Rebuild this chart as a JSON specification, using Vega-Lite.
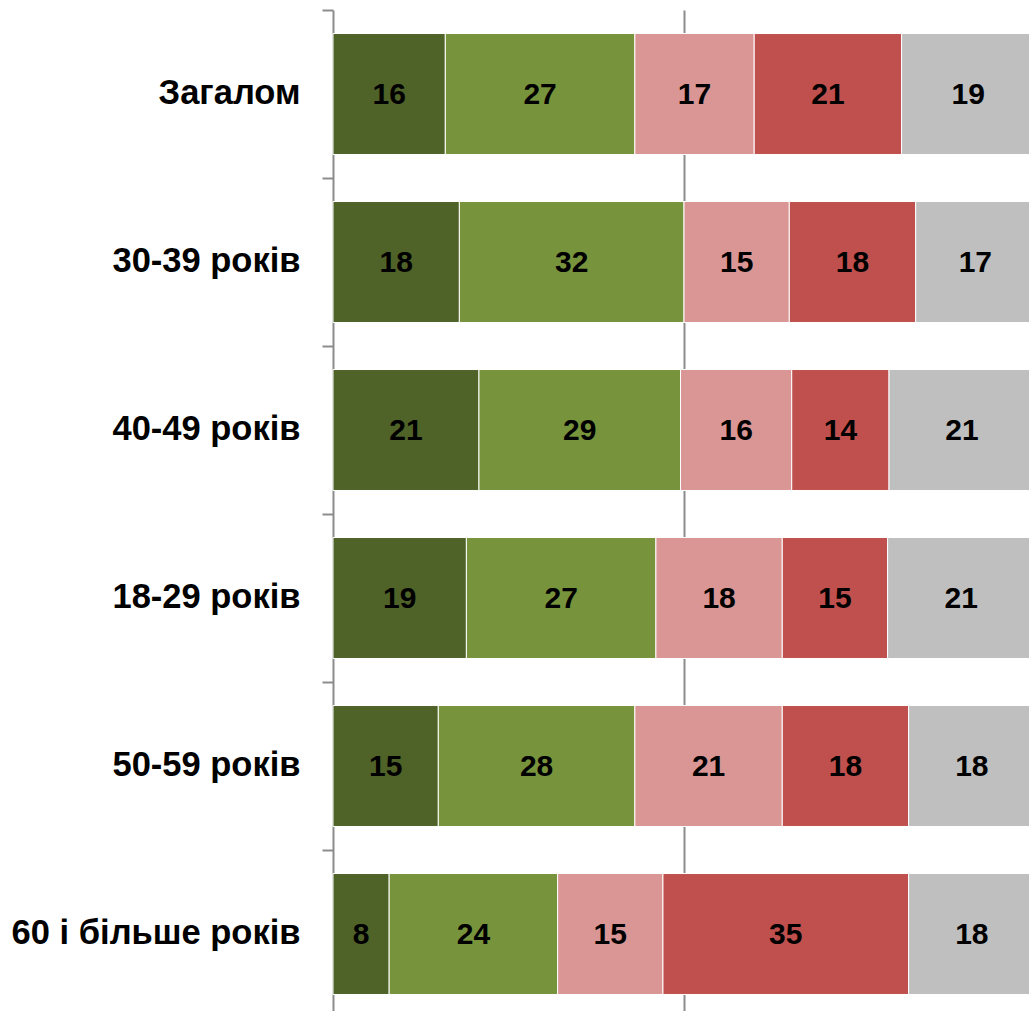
{
  "$schema": "https://vega.github.io/schema/vega-lite/v6.json",
  "width": 702,
  "height": 1008,
  "autosize": {"type": "none"},
  "padding": {"left": 333, "top": 10, "right": 0, "bottom": 0},
  "background": "white",
  "config": {"view": {"stroke": null}, "font": "Liberation Sans"},
  "data": {"values": [
    {"cat": "Загалом", "seg": 1, "value": 16},
    {"cat": "Загалом", "seg": 2, "value": 27},
    {"cat": "Загалом", "seg": 3, "value": 17},
    {"cat": "Загалом", "seg": 4, "value": 21},
    {"cat": "Загалом", "seg": 5, "value": 19},
    {"cat": "30-39 років", "seg": 1, "value": 18},
    {"cat": "30-39 років", "seg": 2, "value": 32},
    {"cat": "30-39 років", "seg": 3, "value": 15},
    {"cat": "30-39 років", "seg": 4, "value": 18},
    {"cat": "30-39 років", "seg": 5, "value": 17},
    {"cat": "40-49 років", "seg": 1, "value": 21},
    {"cat": "40-49 років", "seg": 2, "value": 29},
    {"cat": "40-49 років", "seg": 3, "value": 16},
    {"cat": "40-49 років", "seg": 4, "value": 14},
    {"cat": "40-49 років", "seg": 5, "value": 21},
    {"cat": "18-29 років", "seg": 1, "value": 19},
    {"cat": "18-29 років", "seg": 2, "value": 27},
    {"cat": "18-29 років", "seg": 3, "value": 18},
    {"cat": "18-29 років", "seg": 4, "value": 15},
    {"cat": "18-29 років", "seg": 5, "value": 21},
    {"cat": "50-59 років", "seg": 1, "value": 15},
    {"cat": "50-59 років", "seg": 2, "value": 28},
    {"cat": "50-59 років", "seg": 3, "value": 21},
    {"cat": "50-59 років", "seg": 4, "value": 18},
    {"cat": "50-59 років", "seg": 5, "value": 18},
    {"cat": "60 і більше років", "seg": 1, "value": 8},
    {"cat": "60 і більше років", "seg": 2, "value": 24},
    {"cat": "60 і більше років", "seg": 3, "value": 15},
    {"cat": "60 і більше років", "seg": 4, "value": 35},
    {"cat": "60 і більше років", "seg": 5, "value": 18}
  ]},
  "transform": [
    {"stack": "value", "groupby": ["cat"], "sort": [{"field": "seg", "order": "ascending"}], "as": ["v0", "v1"], "offset": "normalize"}
  ],
  "encoding": {
    "y": {
      "field": "cat", "type": "nominal",
      "sort": ["Загалом", "30-39 років", "40-49 років", "18-29 років", "50-59 років", "60 і більше років"],
      "scale": {"paddingInner": 0.28, "paddingOuter": 0.14},
      "axis": {
        "title": null, "bandPosition": -0.1944,
        "domainColor": "#8c8c8c", "domainWidth": 2,
        "tickColor": "#8c8c8c", "tickWidth": 2, "tickSize": 11,
        "labelFontSize": 34.5, "labelFontWeight": "bold", "labelColor": "black",
        "labelPadding": 22, "labelLimit": 400
      }
    }
  },
  "layer": [
    {
      "mark": {"type": "bar", "stroke": "white", "strokeWidth": 1},
      "encoding": {
        "x": {"field": "v0", "type": "quantitative", "scale": {"domain": [0, 1]},
          "axis": {"orient": "top", "values": [0.5], "grid": true, "gridColor": "#8c8c8c", "gridWidth": 2, "ticks": false, "labels": false, "domain": false, "title": null}},
        "x2": {"field": "v1"},
        "color": {"field": "seg", "type": "nominal", "legend": null,
          "scale": {"domain": [1, 2, 3, 4, 5], "range": ["#4F6228", "#77933C", "#D99694", "#C0504D", "#BFBFBF"]}}
      }
    },
    {
      "transform": [{"fold": ["v0", "v1"], "as": ["edge", "pos"]}],
      "mark": {"type": "text", "fontSize": 30, "fontWeight": "bold", "color": "black", "dy": 1},
      "encoding": {
        "x": {"field": "pos", "aggregate": "mean", "type": "quantitative"},
        "detail": {"field": "seg", "type": "nominal"},
        "text": {"field": "value", "type": "quantitative"}
      }
    }
  ]
}
